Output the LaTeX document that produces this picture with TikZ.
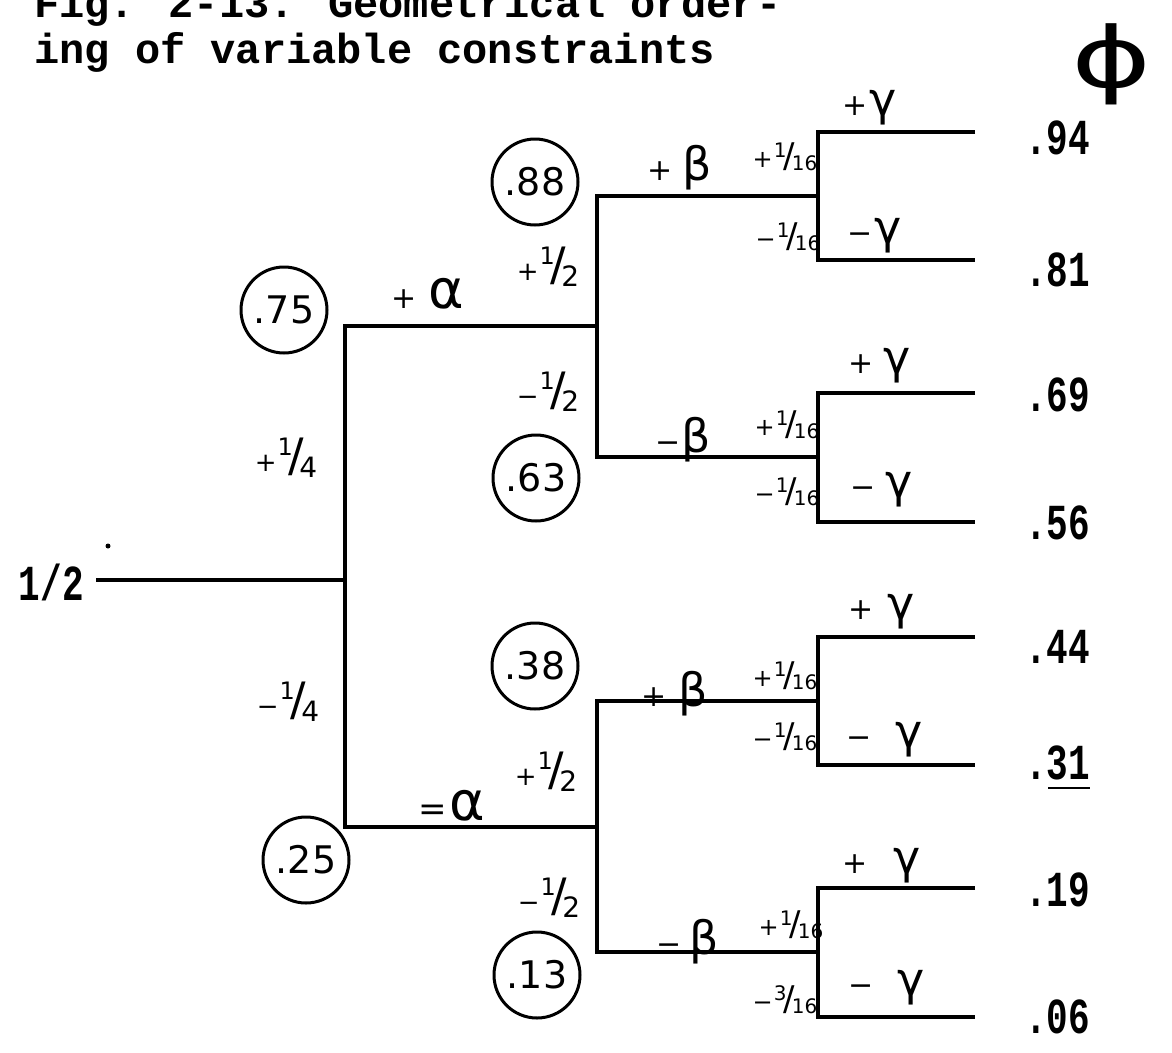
\documentclass[tikz,border=0pt]{standalone}
\usepackage{fontspec}
\setmainfont{Liberation Serif}
\newfontfamily\typew{Liberation Mono}
\newfontfamily\hand{DejaVu Sans}
% small fractions (sixteenths)
\newcommand\hf[3]{{\fontsize{24}{24}\selectfont#1}\kern1pt\raisebox{10pt}{\fontsize{20}{20}\selectfont#2}\kern-3pt{\fontsize{34}{34}\selectfont/}\kern-3pt\raisebox{-3pt}{\fontsize{20}{20}\selectfont#3}}
% larger fractions (halves, quarters)
\newcommand\hF[3]{{\fontsize{26}{26}\selectfont#1}\kern1pt\raisebox{16pt}{\fontsize{24}{24}\selectfont#2}\kern-4pt{\fontsize{46}{46}\selectfont/}\kern-5pt\raisebox{-6pt}{\fontsize{28}{28}\selectfont#3}}
% sign + greek letter
\newcommand\gl[3]{{\fontsize{30}{30}\selectfont#1}\kern#3{\fontsize{46}{46}\selectfont#2}}
\newcommand\typed[1]{\scalebox{1}[1.4]{\typew\bfseries\fontsize{36}{36}\selectfont#1}}
\tikzset{
  br/.style={line width=3.8pt, line join=miter},
  val/.style={anchor=west, inner sep=0pt},
  ttl/.style={anchor=base west, inner sep=0pt, font=\typew\bfseries\fontsize{42}{42}\selectfont},
  circ/.style={circle, draw, line width=3pt, minimum size=86pt, inner sep=0pt, font=\hand\fontsize{38}{38}\selectfont},
  lab/.style={inner sep=0pt, font=\hand},
  frl/.style={inner sep=0pt, font=\hand}
}
\begin{document}
\begin{tikzpicture}[x=1pt,y=-1pt]
\useasboundingbox (0,0) rectangle (1172,1052);
\fill[white] (0,0) rectangle (1172,1052);
% title
\node[ttl] (t1) at (34,17) {Fig. 2-13. Geometrical order-};
\node[ttl] (t2) at (34,63) {ing of variable constraints};
\node[inner sep=0pt, font=\hand\fontsize{84}{84}\selectfont] (phi) at (1112,64) {\scalebox{1.45}[1]{ϕ}};
% root
\node[anchor=east, inner sep=0pt] (half) at (84,582) {\typed{1/2}};
\fill (108,546) circle (2.5pt);
% junction coordinates
\coordinate (r0) at (96,580);  \coordinate (r1) at (345,580);
\coordinate (a1) at (345,326); \coordinate (a2) at (345,827);
\coordinate (b1) at (597,326); \coordinate (b2) at (597,827);
\coordinate (c1) at (597,196); \coordinate (c2) at (597,457);
\coordinate (c3) at (597,701); \coordinate (c4) at (597,952);
\coordinate (d1) at (818,196); \coordinate (d2) at (818,457);
\coordinate (d3) at (818,701); \coordinate (d4) at (818,952);
\foreach \i/\y in {1/132,2/260,3/393,4/522,5/637,6/765,7/888,8/1017}{
  \coordinate (e\i) at (818,\y); \coordinate (f\i) at (975,\y);
}
% branches
\draw[br] (r0) -- (r1);
\draw[br] (b1) -- (a1) -- (a2) -- (b2);
\draw[br] (d1) -- (c1) -- (c2) -- (d2);
\draw[br] (d3) -- (c3) -- (c4) -- (d4);
\draw[br] (f1) -- (e1) -- (e2) -- (f2);
\draw[br] (f3) -- (e3) -- (e4) -- (f4);
\draw[br] (f5) -- (e5) -- (e6) -- (f6);
\draw[br] (f7) -- (e7) -- (e8) -- (f8);
% circled values
\node[circ] (n75) at (284,310) {.75};
\node[circ] (n25) at (306,860) {.25};
\node[circ] (n88) at (535,182) {.88};
\node[circ] (n63) at (536,478) {.63};
\node[circ] (n38) at (535,666) {.38};
\node[circ] (n13) at (537,975) {.13};
% level-1 labels
\node[lab] (la) at (428,294) {{\fontsize{30}{30}\selectfont +}\kern12pt{\fontsize{54}{54}\selectfont α}};
\node[lab] (lna) at (452,806) {{\fontsize{34}{34}\selectfont =}\kern2pt{\fontsize{54}{54}\selectfont α}};
\node[frl] (q1) at (286,458) {\hF{+}{1}{4}};
\node[frl] (q2) at (288,702) {\hF{−}{1}{4}};
% level-2 labels
\node[frl] (h1) at (548,267) {\hF{+}{1}{2}};
\node[frl] (h2) at (548,392) {\hF{−}{1}{2}};
\node[frl] (h3) at (546,772) {\hF{+}{1}{2}};
\node[frl] (h4) at (549,898) {\hF{−}{1}{2}};
\node[lab] (bb1) at (680,168) {\gl{+}{β}{10pt}};
\node[lab] (bb2) at (683,440) {\gl{−}{β}{1pt}};
\node[lab] (bb3) at (675,694) {\gl{+}{β}{12pt}};
\node[lab] (bb4) at (688,942) {\gl{−}{β}{8pt}};
% level-3 labels
\node[frl] (s1) at (785,157) {\hf{+}{1}{16}};
\node[frl] (s2) at (788,237) {\hf{−}{1}{16}};
\node[frl] (s3) at (787,425) {\hf{+}{1}{16}};
\node[frl] (s4) at (787,492) {\hf{−}{1}{16}};
\node[frl] (s5) at (785,676) {\hf{+}{1}{16}};
\node[frl] (s6) at (785,737) {\hf{−}{1}{16}};
\node[frl] (s7) at (791,925) {\hf{+}{1}{16}};
\node[frl] (s8) at (785,1000) {\hf{−}{3}{16}};
\node[lab] (g1) at (870,108) {\gl{+}{γ}{2pt}};
\node[lab] (g2) at (875,236) {\gl{−}{γ}{2pt}};
\node[lab] (g3) at (880,366) {\gl{+}{γ}{10pt}};
\node[lab] (g4) at (882,490) {\gl{−}{γ}{10pt}};
\node[lab] (g5) at (882,612) {\gl{+}{γ}{14pt}};
\node[lab] (g6) at (885,740) {\gl{−}{γ}{24pt}};
\node[lab] (g7) at (882,866) {\gl{+}{γ}{26pt}};
\node[lab] (g8) at (887,988) {\gl{−}{γ}{24pt}};
% final values
\node[val] (v1) at (1025,138) {\typed{.94}};
\node[val] (v2) at (1025,270) {\typed{.81}};
\node[val] (v3) at (1025,395) {\typed{.69}};
\node[val] (v4) at (1025,523) {\typed{.56}};
\node[val] (v5) at (1025,647) {\typed{.44}};
\node[val] (v6) at (1025,763) {\typed{.31}};
\node[val] (v7) at (1025,890) {\typed{.19}};
\node[val] (v8) at (1025,1017) {\typed{.06}};
\coordinate (u0) at (1048,788); \coordinate (u1) at (1090,788);
\draw[line width=2.2pt] (u0) -- (u1);
\end{tikzpicture}
\end{document}
